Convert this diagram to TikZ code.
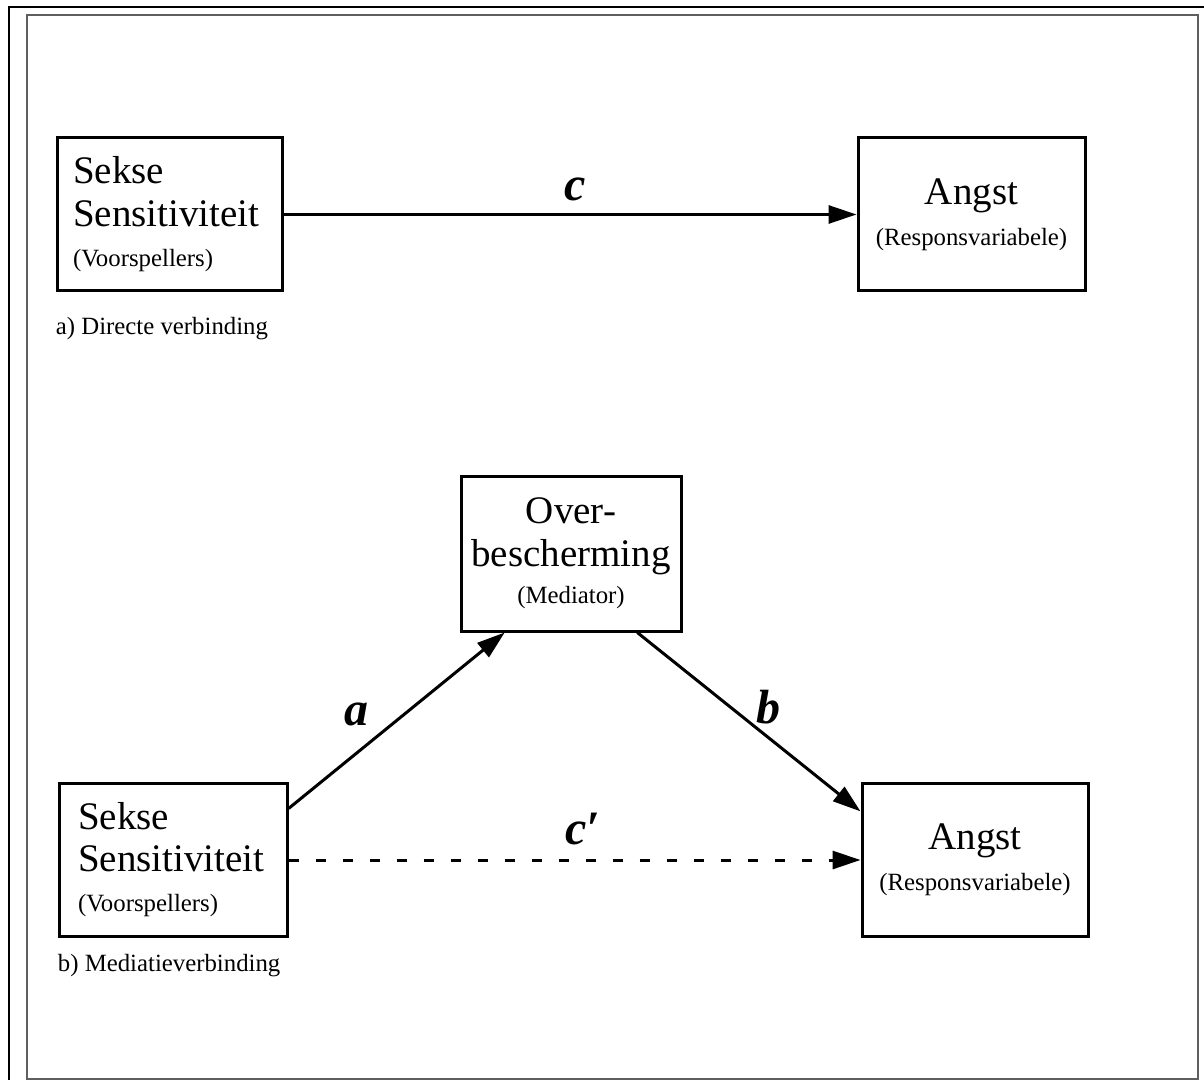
\documentclass[tikz,border=0pt]{standalone}
\usepackage{fontspec}
\setmainfont{Liberation Serif}
\usetikzlibrary{arrows.meta,positioning}
\usepackage{xcolor}
\definecolor{KaderGrijs}{HTML}{5f5f5f}
\newcommand{\groot}{\fontsize{19.5}{20}\selectfont}
\newcommand{\klein}{\fontsize{12.4}{20}\selectfont}

\begin{document}
\begin{tikzpicture}[x=0.5pt, y=-0.5pt]
  \tikzset{%
    variabele/.style={draw=black, line width=1.5pt, rectangle, minimum height=76.5pt, font=\groot},%
    links/.style={variabele, align=left, inner xsep=8pt},%
    midden/.style={variabele, align=center},%
    pijl/.style={line width=1.5pt, -{Triangle[length=14pt, width=9pt]}},%
    padlabel/.style={font=\fontsize{24}{24}\selectfont\bfseries\itshape, inner sep=0pt},%
    bijschrift/.style={font=\klein, inner sep=0pt},%
  }%
  \useasboundingbox (0,0) rectangle (1204,1080);%

  %
  % Kader
  %
  \draw[KaderGrijs, line width=1pt] (27,15) rectangle (1198,1079);%
  \draw[black, line width=1.3pt] (9,1080) -- (9,7) -- (1204,7);%

  %
  % a) Directe verbinding
  %
  \node[links, text width=96.5pt] (sekse a) at (169.5,214.5) {Sekse\\[1.5pt]Sensitiviteit\\\klein(Voorspellers)};%
  \node[midden, minimum width=113.5pt] (angst a) at (971.5,214.5) {Angst\\[0.5pt]\klein(Responsvariabele)};%
  \node[bijschrift, below right=12pt and 0pt of sekse a.south west] (bijschrift a) {a) Directe verbinding};%

  \draw[pijl] (sekse a.east) -- (angst a.west) node[padlabel, midway, above=6pt, xshift=2.5pt] (c) {c};%

  %
  % b) Mediatieverbinding
  %
  \node[midden, minimum width=110pt, minimum height=77.5pt] (mediator) at (571,553.5) {Over-\\[1.5pt]bescherming\\[-1.5pt]\klein(Mediator)};%
  \node[links, text width=95pt, inner xsep=9.5pt] (sekse b) at (173,860) {Sekse\\[1pt]Sensitiviteit\\\klein(Voorspellers)};%
  \node[midden, minimum width=113pt] (angst b) at (975,860) {Angst\\[0.5pt]\klein(Responsvariabele)};%
  \node[bijschrift, below right=8pt and 0pt of sekse b.south west] (bijschrift b) {b) Mediatieverbinding};%

  % Paden
  \draw[pijl] (sekse b.24.5) -- (mediator.230.5) node[padlabel, pos=0.3, above=14pt, xshift=1.5pt] (a) {a};%
  \draw[pijl] (mediator.310.4) -- (angst b.157) node[padlabel, pos=0.5, anchor=south west, xshift=3pt, yshift=-2pt] (b) {b};%
  \draw[pijl, dash pattern=on 5pt off 8.5pt] (sekse b.east) -- (angst b.west) node[padlabel, midway, above=7pt, xshift=4pt] (c accent) {c′};%
\end{tikzpicture}
\end{document}
